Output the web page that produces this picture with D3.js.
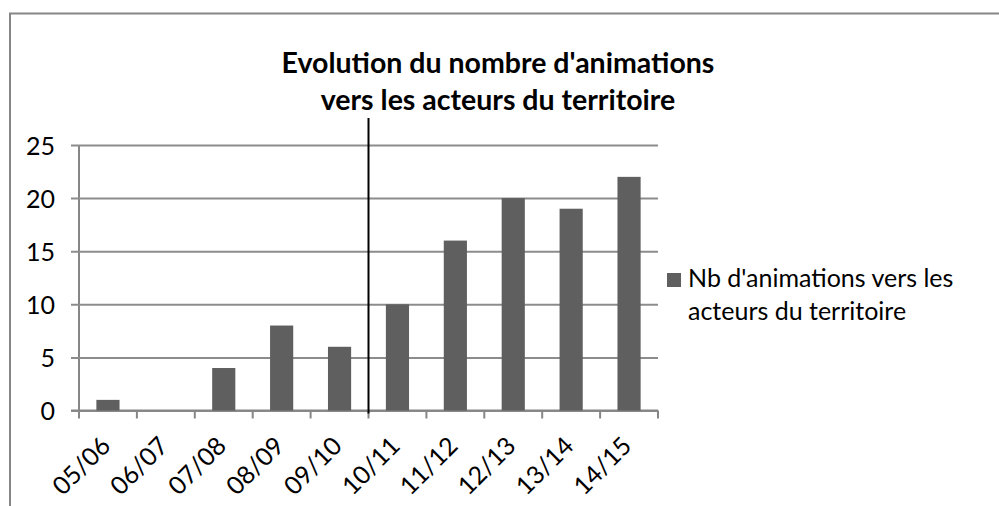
<!DOCTYPE html>
<html>
<head>
<meta charset="utf-8">
<script src="https://cdn.jsdelivr.net/npm/d3@7"></script>
<style>
  body { margin: 0; background: #fff; }
  svg { display: block; font-family: Lato, "Open Sans", sans-serif; }
</style>
</head>
<body>
<div id="chart"></div>
<script>
// Data
const seasons = ["05/06", "06/07", "07/08", "08/09", "09/10", "10/11", "11/12", "12/13", "13/14", "14/15"];
const animations = [1, 0, 4, 8, 6, 10, 16, 20, 19, 22];
const yTicks = [0, 5, 10, 15, 20, 25];
const titleLines = ["Evolution du nombre d'animations", "vers les acteurs du territoire"];
const legendLines = ["Nb d'animations vers les", "acteurs du territoire"];
const markerSeason = "10/11"; // black vertical line drawn before this season

const W = 999, H = 506;
const plot = { left: 79, right: 658, top: 145, bottom: 410.5 };

const svg = d3
  .select("#chart")
  .append("svg")
  .attr("width", W)
  .attr("height", H);

// Outer chart border (top and left only are visible)
svg.append("path")
  .attr("d", `M10,${H} V13.5 H${W}`)
  .attr("fill", "none")
  .attr("stroke", "#868686")
  .attr("stroke-width", 2);

// Scales
const x = d3.scaleBand()
  .domain(seasons)
  .range([plot.left, plot.right])
  .paddingInner(0.6)
  .paddingOuter(0.3);
const xEdges = d3.scaleBand().domain(seasons).range([plot.left, plot.right]);
const y = d3.scaleLinear().domain([0, 25]).range([plot.bottom, plot.top]);

// Gridlines and y labels
const yAxis = svg.append("g")
  .attr("transform", `translate(${plot.left},0)`)
  .call(d3.axisLeft(y).tickValues(yTicks).tickSize(8).tickPadding(16)
    .tickFormat(d3.format("d")))
  .attr("font-family", null)
  .attr("font-size", null);
yAxis.select(".domain").attr("stroke", "#868686").attr("stroke-width", 2)
  .attr("d", `M0,${plot.top}V${plot.bottom}`);
yAxis.selectAll(".tick line")
  .attr("x1", -8)
  .attr("x2", plot.right - plot.left)
  .attr("stroke", "#8c8c8c")
  .attr("stroke-width", 2);
yAxis.selectAll(".tick text")
  .attr("fill", "#000")
  .style("font-size", "25px")
  .attr("dy", "0.36em");

// X axis with boundary ticks
const xAxis = svg.append("g").attr("transform", `translate(0,${plot.bottom})`);
xAxis.append("line")
  .attr("x1", plot.left - 8).attr("x2", plot.right)
  .attr("stroke", "#868686").attr("stroke-width", 2);
xAxis.selectAll(".edge")
  .data(seasons.concat(["end"]))
  .enter()
  .append("line")
  .attr("x1", (d, i) => i < seasons.length ? xEdges(d) : plot.right)
  .attr("x2", (d, i) => i < seasons.length ? xEdges(d) : plot.right)
  .attr("y1", 0).attr("y2", 8)
  .attr("stroke", "#868686").attr("stroke-width", 2);
xAxis.selectAll(".lbl")
  .data(seasons)
  .enter()
  .append("text")
  .attr("transform", (d) => `translate(${x(d) + x.bandwidth() / 2 + 4},${37}) rotate(-45)`)
  .attr("text-anchor", "end")
  .style("font-size", "25px")
  .attr("fill", "#000")
  .text((d) => d);

// Bars
svg.selectAll(".bar")
  .data(seasons)
  .enter()
  .append("rect")
  .attr("x", (d) => x(d))
  .attr("y", (d, i) => y(animations[i]))
  .attr("width", x.bandwidth())
  .attr("height", (d, i) => y(0) - y(animations[i]))
  .attr("fill", "#5f5f5f");

// Vertical marker line
svg.append("line")
  .attr("x1", xEdges(markerSeason)).attr("x2", xEdges(markerSeason))
  .attr("y1", 118).attr("y2", plot.bottom + 3)
  .attr("stroke", "#000").attr("stroke-width", 2);

// Title
svg.append("text")
  .attr("x", 498)
  .attr("text-anchor", "middle")
  .style("font-size", "28.5px")
  .style("font-weight", "bold")
  .selectAll("tspan")
  .data(titleLines)
  .enter()
  .append("tspan")
  .attr("x", 498)
  .attr("y", (d, i) => 73 + i * 36.5)
  .text((d) => d);

// Legend
svg.append("rect")
  .attr("x", 667).attr("y", 273)
  .attr("width", 14).attr("height", 14)
  .attr("fill", "#5f5f5f");
svg.append("text")
  .style("font-size", "25px")
  .selectAll("tspan")
  .data(legendLines)
  .enter()
  .append("tspan")
  .attr("x", 688)
  .attr("y", (d, i) => 287 + i * 33)
  .text((d) => d);
</script>
</body>
</html>
